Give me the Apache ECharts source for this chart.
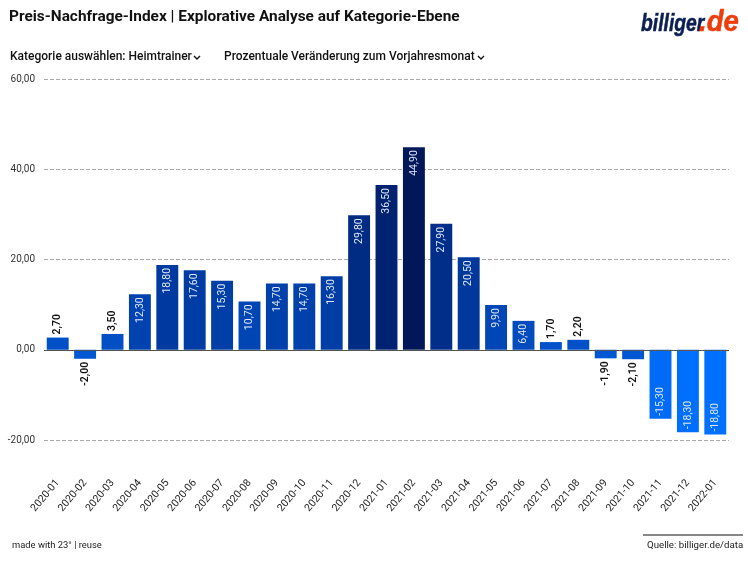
<!DOCTYPE html>
<html>
<head>
<meta charset="utf-8">
<style>
  html, body { margin: 0; padding: 0; background: #fff; }
  #main { width: 748px; height: 561px; }
</style>
<script src="https://cdn.jsdelivr.net/npm/echarts@6/dist/echarts.min.js"></script>
</head>
<body>
<div id="main"></div>
<script>
var months = ['2020-01','2020-02','2020-03','2020-04','2020-05','2020-06','2020-07','2020-08','2020-09','2020-10','2020-11','2020-12',
  '2021-01','2021-02','2021-03','2021-04','2021-05','2021-06','2021-07','2021-08','2021-09','2021-10','2021-11','2021-12','2022-01'];
var changes = [2.7,-2.0,3.5,12.3,18.8,17.6,15.3,10.7,14.7,14.7,16.3,29.8,36.5,44.9,27.9,20.5,9.9,6.4,1.7,2.2,-1.9,-2.1,-15.3,-18.3,-18.8];
var scaleColors = ['#0070ff','#0050c8','#003494','#00175a'];

function fmt(v) {
  return v.toFixed(2).replace('.', ',');
}

// kleine Balken: Label aussen und schwarz, sonst innen
function barLabel(v) {
  var small = Math.abs(v) < 5;
  if (small) {
    return {
      position: v < 0 ? 'bottom' : 'top',
      align: v < 0 ? 'right' : 'left',
      color: '#111',
      fontWeight: 600
    };
  }
  return {
    position: v < 0 ? 'insideBottom' : 'insideTop',
    align: v < 0 ? 'left' : 'right',
    color: '#dfe8fa'
  };
}

var myChart = echarts.init(document.getElementById('main'));

var option = {
  animation: false,
  textStyle: { fontFamily: 'Roboto' },
  grid: { left: 44, right: 19, top: 79, bottom: 121 },
  visualMap: {
    show: false,
    type: 'continuous',
    min: -18.8,
    max: 44.9,
    inRange: { color: scaleColors },
    seriesIndex: 0
  },
  xAxis: {
    type: 'category',
    data: months,
    axisLine: { show: false },
    axisTick: { show: false },
    axisLabel: { rotate: 50, fontSize: 10.5, color: '#222', margin: 41, interval: 0 }
  },
  yAxis: {
    type: 'value',
    min: -20,
    max: 60,
    interval: 20,
    axisLine: { show: false },
    axisTick: { show: false },
    axisLabel: { color: '#333', fontSize: 10, margin: 9, formatter: fmt },
    splitLine: { lineStyle: { color: '#aaa', type: 'dashed', width: 1 } }
  },
  series: [{
    type: 'bar',
    barCategoryGap: '20%',
    data: changes.map(function (v) {
      return { value: v, label: barLabel(v) };
    }),
    label: {
      show: true,
      rotate: 90,
      fontSize: 10.5,
      distance: 3,
      verticalAlign: 'middle',
      formatter: function (p) { return fmt(p.value); }
    },
    markLine: {
      silent: true,
      symbol: 'none',
      label: { show: false },
      lineStyle: { color: '#555', type: 'solid', width: 1 },
      data: [{ yAxis: 0 }]
    }
  }],
  graphic: [
    { type: 'text', left: 9, top: 10, style: { text: 'Preis-Nachfrage-Index | Explorative Analyse auf Kategorie-Ebene', font: 'bold 15.4px Roboto', fill: '#111' } },
    { type: 'text', left: 10, top: 51, style: { text: 'Kategorie auswählen: Heimtrainer', font: '500 12px Roboto', fill: '#111' } },
    { type: 'polyline', shape: { points: [[194, 56], [197, 59], [200, 56]] }, style: { stroke: '#111', lineWidth: 1.4, fill: 'none' } },
    { type: 'text', left: 224, top: 51, style: { text: 'Prozentuale Veränderung zum Vorjahresmonat', font: '500 12px Roboto', fill: '#111' } },
    { type: 'polyline', shape: { points: [[478, 56], [481, 59], [484, 56]] }, style: { stroke: '#111', lineWidth: 1.4, fill: 'none' } },
    { type: 'text', x: 641, y: 13, scaleX: 0.84, style: { text: 'billiger', font: 'italic 900 23px "Liberation Sans Narrow", "Liberation Sans"', fill: '#0b1f52', stroke: '#0b1f52', lineWidth: 0.5 } },
    { type: 'text', x: 699, y: 8, scaleX: 0.95, style: { text: '.de', font: 'italic 900 29px "Liberation Sans Narrow", "Liberation Sans"', fill: '#f03c0a', stroke: '#f03c0a', lineWidth: 0.5 } },
    { type: 'text', left: 12, top: 541, style: { text: 'made with 23° | reuse', font: '9.4px Roboto', fill: '#222' } },
    { type: 'line', shape: { x1: 643, y1: 535, x2: 743, y2: 535 }, style: { stroke: '#111', lineWidth: 1.2 } },
    { type: 'text', left: 647, top: 541, style: { text: 'Quelle: billiger.de/data', font: '9.7px Roboto', fill: '#222' } }
  ]
};

myChart.setOption(option);
</script>
</body>
</html>
